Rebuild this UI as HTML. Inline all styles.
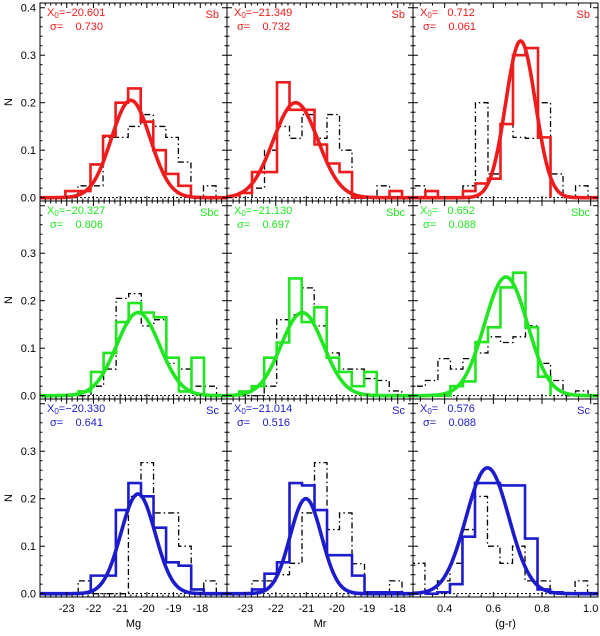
<!DOCTYPE html>
<html><head><meta charset="utf-8"><style>
body{margin:0;background:#fff}
svg text{font-family:"Liberation Sans",sans-serif;font-size:11px;white-space:pre}
</style></head><body>
<svg id="c" width="600" height="631" xmlns="http://www.w3.org/2000/svg"></svg>
<script>
const rowTypes=["Sb","Sbc","Sc"];
const rowColors=["#ee1c1c","#22e622","#1c1ccc"];
const colVars=["Mg","Mr","(g-r)"];
const colRanges=[[-24,-17],[-23.6,-17.5],[0.27,1.03]];
const colTickLabels=[["-23","-22","-21","-20","-19","-18"],["-23","-22","-21","-20","-19","-18"],["0.4","0.6","0.8","1.0"]];
const colTickVals=[[-23,-22,-21,-20,-19,-18],[-23,-22,-21,-20,-19,-18],[0.4,0.6,0.8,1.0]];
const colMinor=[0.2,0.2,0.05];
const binStart=[[-23.05,-23.19,0.321],[-22.56,-23.2,0.321],[-22.1,-22.78,0.319]];
const binWidth=[0.47,0.41,0.0514];
const blackStart=[[-23.05,-22.78,0.2696],[-22.56,-23.2,0.2696],[-22.57,-22.78,0.2676]];
const colorHist=[
 [[0.014,0.014,0.07,0.13,0.2,0.23,0.16,0.1,0.05,0.025],
  [0.01,0.054,0.054,0.243,0.185,0.185,0.112,0.072,0.054,0,0,0,0.014],
  [0.014,0,0,0.014,0.03,0.04,0.155,0.3,0.315,0.127]],
 [[0.009,0.05,0.09,0.155,0.195,0.175,0.165,0.08,0.009,0.08],
  [0.009,0.02,0.08,0.112,0.247,0.155,0.186,0.08,0.05,0.02,0.05],
  [0,0,0.02,0.03,0.113,0.144,0.228,0.259,0.144,0.04]],
 [[0.038,0.038,0.176,0.233,0.205,0.139,0.066,0.059,0.009],
  [0.009,0.042,0.066,0.233,0.228,0.176,0.081,0.081,0.038,0.003,0.003,0.003],
  [0,0.003,0.02,0.12,0.233,0.233,0.228,0.228,0.116,0.009,0.003]]];
const blackHist=[
 [[0,0.025,0.025,0.127,0.127,0.15,0.175,0.15,0.127,0.075,0,0.025],
  [0.02,0.1,0.15,0.125,0.175,0.125,0.175,0.1,0,0,0.025,0],
  [0.025,0,0,0,0.025,0.2,0.05,0.155,0.127,0.125,0.2,0.05,0,0.025]],
 [[0,0.02,0.056,0.205,0.215,0.147,0.16,0.068,0.056,0.02,0.02],
  [0,0,0.02,0.16,0.17,0.227,0.147,0.09,0.056,0.056,0.036,0.032,0.01],
  [0.02,0.032,0.078,0.056,0.078,0.09,0.124,0.112,0.124,0.147,0.068,0.032,0,0.01]],
 [[0.027,0,0,0,0.205,0.276,0.17,0.17,0.1,0,0.027],
  [0.027,0.027,0.04,0.064,0.17,0.276,0.135,0.17,0.063,0,0,0.027],
  [0.064,0,0.027,0.064,0.135,0.205,0.1,0.064,0.1,0.027,0.027,0,0,0.027]]];
const fitMean=[[-20.601,-21.349,0.712],[-20.327,-21.130,0.652],[-20.330,-21.014,0.576]];
const fitSigma=[[0.730,0.732,0.061],[0.806,0.697,0.088],[0.641,0.516,0.088]];
const fitPeak=[[0.205,0.2,0.33],[0.175,0.175,0.25],[0.21,0.2,0.265]];
const meanLabels=[["−20.601","−21.349","   0.712"],["−20.327","−21.130","   0.652"],["−20.330","−21.014","   0.576"]];
const sigLabels=[["0.730","0.732","0.061"],["0.806","0.697","0.088"],["0.641","0.516","0.088"]];
const yTicks=[0,0.1,0.2,0.3,0.4];

const NS="http://www.w3.org/2000/svg";
const svg=document.getElementById('c');
const colX=[[40,227],[227,413],[413,598]];
const rowY=[3,201,399];
const YMAX=0.41,YMIN=-0.007,PH=198;
function mk(t,a,p){const e=document.createElementNS(NS,t);for(const k in a)e.setAttribute(k,a[k]);(p||svg).appendChild(e);return e;}
for(let r=0;r<3;r++){for(let c=0;c<3;c++){
 const g=mk('g',{});
 
 
 const x0=colX[c][0],x1=colX[c][1],top=rowY[r],bot=top+PH;
 const [a,b]=colRanges[c];
 const X=v=>x0+(v-a)/(b-a)*(x1-x0);
 const Y=v=>top+(YMAX-v)/(YMAX-YMIN)*PH;
 const clip=mk('clipPath',{id:'cl'+r+c},g);mk('rect',{x:x0,y:top,width:x1-x0,height:PH},clip);
 const inner=mk('g',{'clip-path':'url(#cl'+r+c+')'},g);
 const bl=mk('line',{x1:x0,x2:x1,y1:Y(0),y2:Y(0),stroke:'#000','stroke-width':1,'stroke-dasharray':'2,2'},inner);
 
 function step(arr,s,w){let d='M'+X(s)+','+Y(0);arr.forEach((h,i)=>{d+=' L'+X(s+i*w)+','+Y(h)+' L'+X(s+(i+1)*w)+','+Y(h);});d+=' L'+X(s+arr.length*w)+','+Y(0);return d;}
 const bh=mk('path',{d:step(blackHist[r][c],blackStart[r][c],binWidth[c]),fill:'none',stroke:'#000','stroke-width':1.3,'stroke-dasharray':'6,3,1.5,3'},inner);
 
 const ch=mk('path',{d:step(colorHist[r][c],binStart[r][c],binWidth[c]),fill:'none',stroke:rowColors[r],'stroke-width':2.6},inner);
 
 let d='';for(let i=0;i<=200;i++){const v=a+(b-a)*i/200;const h=fitPeak[r][c]*Math.exp(-0.5*Math.pow((v-fitMean[r][c])/fitSigma[r][c],2));d+=(i?' L':'M')+X(v).toFixed(2)+','+Y(h).toFixed(2);}
 const gf=mk('path',{d:d,fill:'none',stroke:rowColors[r],'stroke-width':3.6},inner);
 
 mk('rect',{x:x0,y:top,width:x1-x0,height:PH,fill:'none',stroke:'#000','stroke-width':1},g);
 const st=Math.ceil(a/colMinor[c]-1e-6);
 for(let k=st;k*colMinor[c]<=b+1e-9;k++){const v=k*colMinor[c];const maj=colTickVals[c].some(t=>Math.abs(t-v)<1e-6);const L=maj?5:2.5;
  mk('line',{x1:X(v),x2:X(v),y1:bot,y2:bot-L,stroke:'#000'},g);mk('line',{x1:X(v),x2:X(v),y1:top,y2:top+L,stroke:'#000'},g);}
 for(let k=0;k<=20;k++){const v=k*0.02;if(v>YMAX)break;const maj=k%5==0;const L=maj?5:2.5;
  mk('line',{x1:x0,x2:x0+L,y1:Y(v),y2:Y(v),stroke:'#000'},g);mk('line',{x1:x1,x2:x1-L,y1:Y(v),y2:Y(v),stroke:'#000'},g);}
 const t1=mk('text',{x:x0+7,y:top+13,fill:rowColors[r]},g);
 
 t1.innerHTML='X<tspan font-size="8" dy="2">0</tspan><tspan dy="-2">='+meanLabels[r][c]+'</tspan>';
 const t2=mk('text',{x:x0+10,y:top+27,fill:rowColors[r]},g);
 
 t2.textContent='σ=    '+sigLabels[r][c];
 const t3=mk('text',{x:x1-8,y:top+15,fill:rowColors[r],'text-anchor':'end'},g);
 
 t3.textContent=rowTypes[r];
 if(c==0){
  yTicks.forEach(v=>{if(r>0&&v>0.35)return;const t=mk('text',{x:x0-4,y:Y(v)+4,'text-anchor':'end'},svg);
   t.textContent=v.toFixed(1);});
  const n=mk('text',{x:12,y:top+PH/2,'text-anchor':'middle',transform:'rotate(-90 12 '+(top+PH/2)+')'},svg);
  n.textContent='N';
 }
 if(r==2){
  colTickVals[c].forEach((v,i)=>{const t=mk('text',{x:X(v),y:612,'text-anchor':'middle'},svg);
   t.textContent=colTickLabels[c][i];});
  const xt=mk('text',{x:(x0+x1)/2,y:627,'text-anchor':'middle'},svg);
  xt.textContent=colVars[c];
 }
}}
</script>
</body></html>
